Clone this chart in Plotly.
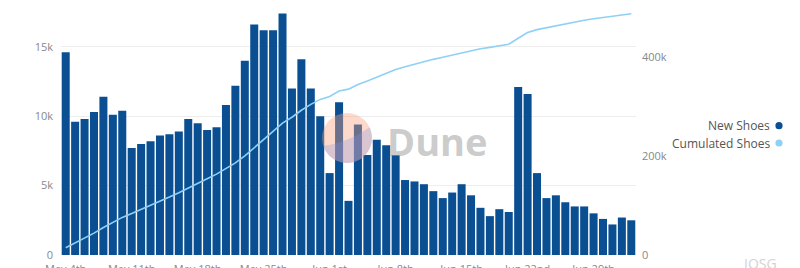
import numpy as np
import pandas as pd
import plotly.graph_objects as go

# ---- data ----
dates = pd.date_range("2021-05-04", periods=61, freq="D")
new_shoes = [14600, 9600, 9800, 10300, 11400, 10100, 10400, 7700, 8000, 8200, 8600, 8700, 8900, 9800, 9500,
             9000, 9200, 10800, 12200, 14000, 16600, 16200, 16200, 17400, 12000, 14100, 12000, 10000, 5900, 11000,
             3900, 9400, 7200, 8300, 7900, 7200, 5400, 5300, 5100, 4600, 4100, 4500, 5100, 4300, 3400,
             2800, 3300, 3100, 12100, 11600, 5900, 4100, 4300, 3800, 3500, 3500, 3000, 2600, 2200, 2700, 2500]
cumulated_shoes = [14600, 24200, 34000, 44300, 55700, 65800, 76200, 83900, 91900, 100100, 108700, 117400,
                   126300, 136100, 145600, 154600, 163800, 174600, 186800, 200800, 217400, 233600, 249800,
                   267200, 279200, 293300, 305300, 315300, 321200, 332200, 336100, 345500, 352700, 361000,
                   368900, 376100, 381500, 386800, 391900, 396500, 400600, 405100, 410200, 414500, 417900,
                   420700, 424000, 427100, 439200, 450800, 456700, 460800, 465100, 468900, 472400, 475900,
                   478900, 481500, 483700, 486400, 488900]
x_tick_dates = ["2021-05-04", "2021-05-11", "2021-05-18", "2021-05-25", "2021-06-01",
                "2021-06-08", "2021-06-15", "2021-06-22", "2021-06-29"]
x_tick_labels = ["May 4th", "May 11th", "May 18th", "May 25th", "Jun 1st",
                 "Jun 8th", "Jun 15th", "Jun 22nd", "Jun 29th"]
y_left_ticks = [0, 5000, 10000, 15000]
y_left_labels = ["0", "5k", "10k", "15k"]
y_right_ticks = [0, 200000, 400000]
y_right_labels = ["0", "200k", "400k"]

BAR = "#0b4f93"
LINE = "#8fd0f5"
FONT = "Open Sans"

# pixel layout helpers
W, H = 800, 268
L, R, T, B = 61, 636, 10, 255


def px(x):
    return (x - L) / (R - L)


def py(y):
    return (B - y) / (B - T)


fig = go.Figure()
fig.add_trace(go.Bar(x=dates, y=new_shoes, name="New Shoes", marker=dict(color=BAR, line=dict(width=0)),
                     yaxis="y"))
fig.add_trace(go.Scatter(x=dates, y=cumulated_shoes, name="Cumulated Shoes", mode="lines",
                         line=dict(color=LINE, width=1.6), yaxis="y2"))

shapes = []
# watermark circle
cx, cy, r = 347, 138, 25
shapes.append(dict(type="circle", xref="paper", yref="paper", layer="above",
                   x0=px(cx - r), x1=px(cx + r), y0=py(cy + r), y1=py(cy - r),
                   fillcolor="rgba(250,160,125,0.40)", line=dict(width=0)))
# lower blue segment of the watermark
t = np.linspace(-0.14 * np.pi, 0.9 * np.pi, 40)
pts = [(cx + r * np.cos(a), cy + r * np.sin(a)) for a in t]
path = "M " + " L ".join(f"{px(a):.5f},{py(b):.5f}" for a, b in pts)
path += f" Q {px(cx - 2):.5f},{py(cy + 6):.5f} {px(pts[0][0]):.5f},{py(pts[0][1]):.5f} Z"
shapes.append(dict(type="path", xref="paper", yref="paper", layer="above", path=path,
                   fillcolor="rgba(135,150,230,0.30)", line=dict(width=0)))
# legend dots
for yy, col in [(125.7, BAR), (143, LINE)]:
    shapes.append(dict(type="circle", xref="paper", yref="paper",
                       x0=px(779 - 3.6), x1=px(779 + 3.6), y0=py(yy + 3.6), y1=py(yy - 3.6),
                       fillcolor=col, line=dict(width=0)))

annotations = [
    dict(text="<b>Dune</b>", xref="paper", yref="paper", x=px(437), y=py(141), showarrow=False,
         font=dict(family=FONT, size=38, color="rgba(160,160,160,0.55)"), xanchor="center", yanchor="middle"),
    dict(text="New Shoes", xref="paper", yref="paper", x=px(772), y=py(125.7), showarrow=False,
         xanchor="right", yanchor="middle", font=dict(family=FONT, size=12, color="#555")),
    dict(text="Cumulated Shoes", xref="paper", yref="paper", x=px(772), y=py(143), showarrow=False,
         xanchor="right", yanchor="middle", font=dict(family=FONT, size=12, color="#555")),
    dict(text="IOSG", xref="paper", yref="paper", x=px(760), y=py(252), showarrow=False,
         xanchor="center", yanchor="top", font=dict(family=FONT, size=14, color="#d2d2d2")),
]

fig.update_layout(
    width=W, height=H, autosize=False,
    margin=dict(l=L, r=W - R, t=T, b=H - B, pad=0),
    paper_bgcolor="white", plot_bgcolor="white",
    showlegend=False, bargap=0.15,
    font=dict(family=FONT, size=11, color="#888"),
    xaxis=dict(type="date", range=[dates[0] - pd.Timedelta(hours=12), dates[-1] + pd.Timedelta(hours=12)],
               tickvals=x_tick_dates, ticktext=x_tick_labels, showgrid=False, zeroline=False,
               showline=False, ticks="", ticklabelstandoff=6, automargin=False,
               tickfont=dict(size=11, color="#888")),
    yaxis=dict(range=[0, 17650], tickvals=y_left_ticks, ticktext=y_left_labels, showgrid=True,
               gridcolor="#eeeeee", gridwidth=1, zeroline=False, showline=False, ticks="",
               ticklabelstandoff=7, automargin=False, tickfont=dict(size=11, color="#888")),
    yaxis2=dict(range=[0, 496500], overlaying="y", side="right", tickvals=y_right_ticks,
                ticktext=y_right_labels, showgrid=False, zeroline=False, showline=False, ticks="",
                ticklabelstandoff=5, automargin=False, tickfont=dict(size=11, color="#888")),
    shapes=shapes, annotations=annotations,
)

fig.write_html("out.html")
